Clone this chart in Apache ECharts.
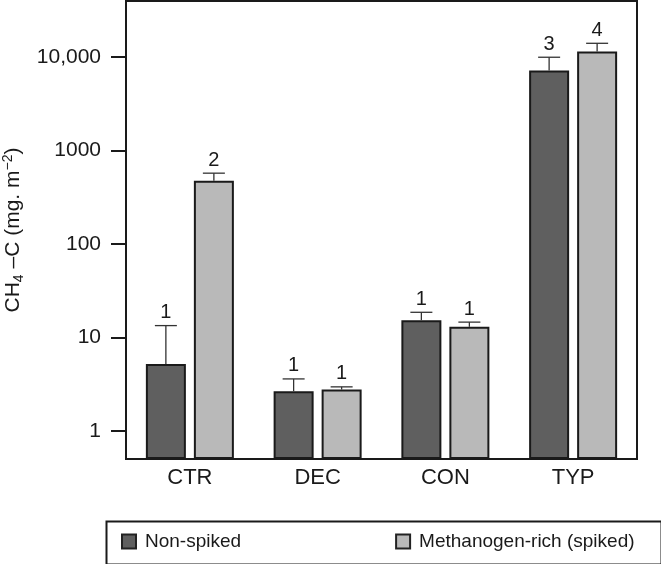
<!DOCTYPE html>
<html>
<head>
<meta charset="utf-8">
<script src="https://cdn.jsdelivr.net/npm/echarts@6/dist/echarts.min.js"></script>
<style>html,body{margin:0;padding:0;background:#fff}#c{width:661px;height:564px}</style>
</head>
<body>
<div id="c"></div>
<script>
const categories = ['CTR', 'DEC', 'CON', 'TYP'];
const seriesNames = ['Non-spiked', 'Methanogen-rich (spiked)'];
const nonSpiked = [5.2, 2.66, 15.3, 7200];
const nonSpikedErrTop = [13.4, 3.6, 18.6, 10000];
const nonSpikedLetters = ['1', '1', '1', '3'];
const spiked = [475, 2.77, 13.0, 11500];
const spikedErrTop = [574, 2.96, 14.6, 14100];
const spikedLetters = ['2', '1', '1', '4'];
const yTicks = [1, 10, 100, 1000, 10000];

const FONT = 'Liberation Sans, Arial, sans-serif';
const TXT = '#1a1a1a';
const chart = echarts.init(document.getElementById('c'), null, {renderer: 'canvas'});

function errSeries(vals, tops, letters, offset) {
  const data = categories.map((c, i) => [i, vals[i], tops[i], letters[i]]);
  return {
    type: 'custom',
    silent: true,
    z: 5,
    data: data,
    encode: {x: 0, y: 2},
    renderItem: function (params, api) {
      const base = api.coord([api.value(0), api.value(1)]);
      const top = api.coord([api.value(0), api.value(2)]);
      const x = base[0] + offset;
      const half = 11;
      return {
        type: 'group',
        children: [
          {type: 'line', shape: {x1: x, y1: base[1], x2: x, y2: top[1]}, style: {stroke: '#333', lineWidth: 1.3}},
          {type: 'line', shape: {x1: x - half, y1: top[1], x2: x + half, y2: top[1]}, style: {stroke: '#333', lineWidth: 1.3}},
          {type: 'text', x: x, y: top[1] - 3, style: {text: api.value(3) + '', fill: TXT, font: '20px ' + FONT, align: 'center', verticalAlign: 'bottom'}}
        ]
      };
    }
  };
}

const option = {
  animation: false,
  backgroundColor: '#fff',
  textStyle: {fontFamily: FONT},
  grid: {left: 126, right: 24, top: 1, bottom: 105, containLabel: false, outerBoundsMode: 'none',
         show: true, borderColor: '#1a1a1a', borderWidth: 2, backgroundColor: 'transparent'},
  legend: {
    left: 104, top: 519,
    padding: [13, 20, 13, 17],
    itemGap: 154,
    itemWidth: 14, itemHeight: 14,
    icon: 'rect',
    itemStyle: {borderColor: '#222', borderWidth: 2},
    textStyle: {fontSize: 19, color: TXT, fontFamily: FONT, padding: [0, 0, 0, 4]},
    data: seriesNames
  },
  graphic: [{type: 'rect', left: 104, top: 519, shape: {width: 555, height: 43}, style: {fill: 'none', stroke: '#1a1a1a', lineWidth: 2}, z: 10, silent: true}],
  xAxis: {
    type: 'category',
    data: categories,
    axisLine: {show: true, lineStyle: {color: '#1a1a1a', width: 2}},
    axisTick: {show: false},
    axisLabel: {fontSize: 22, color: TXT, margin: 8, fontFamily: FONT}
  },
  yAxis: {
    type: 'log',
    logBase: 10,
    min: 0.5,
    max: 40000,
    startValue: 0.5,
    splitLine: {show: false},
    axisLine: {show: true, lineStyle: {color: '#1a1a1a', width: 2}},
    axisTick: {show: true, length: 15, lineStyle: {color: '#1a1a1a', width: 2}, customValues: yTicks},
    axisLabel: {
      fontSize: 21, color: TXT, margin: 25, fontFamily: FONT,
      customValues: yTicks,
      formatter: function (v) { return v >= 10000 ? v.toLocaleString('en-US') : String(v); }
    },
    name: '{n|CH}{s|4}{n| –C (mg. m}{p|−2}{n|)}',
    nameLocation: 'middle',
    nameRotate: 90,
    nameGap: 98,
    nameTextStyle: {
      color: TXT,
      rich: {
        n: {fontSize: 21, fontFamily: FONT, color: TXT},
        s: {fontSize: 14, fontFamily: FONT, color: TXT, padding: [11, 0, 0, 0]},
        p: {fontSize: 14, fontFamily: FONT, color: TXT, padding: [0, 0, 11, 0]}
      }
    }
  },
  series: [
    {name: seriesNames[0], type: 'bar', data: nonSpiked, barWidth: 40, barGap: '20%', z: 3,
     itemStyle: {color: '#5f5f5f', borderColor: '#1a1a1a', borderWidth: 2}},
    {name: seriesNames[1], type: 'bar', data: spiked, barWidth: 40, barGap: '20%', z: 3,
     itemStyle: {color: '#b9b9b9', borderColor: '#1a1a1a', borderWidth: 2}},
    errSeries(nonSpiked, nonSpikedErrTop, nonSpikedLetters, -24),
    errSeries(spiked, spikedErrTop, spikedLetters, 24)
  ]
};
chart.setOption(option);
</script>
</body>
</html>
